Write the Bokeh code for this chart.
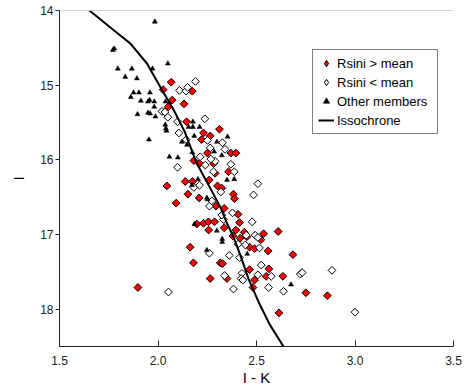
from bokeh.plotting import figure
from bokeh.models import Range1d, FixedTicker, PrintfTickFormatter, Span, Legend, LegendItem
from bokeh.embed import file_html
from bokeh.resources import INLINE
import numpy as np

# Rsini > mean (red diamonds)
red_x = [2.067, 2.026, 2.174, 2.072, 2.132, 2.052, 2.145, 2.312, 2.231, 2.265, 2.221, 2.251,
         2.370, 2.395, 2.182, 2.211, 2.282, 2.290, 2.358, 2.045, 2.138, 2.175, 2.260, 2.302,
         2.324, 2.152, 2.209, 2.383, 2.388, 2.092, 2.294, 2.336, 2.406, 2.197, 2.231, 2.256,
         2.287, 2.336, 2.414, 2.257, 2.395, 2.380, 2.417, 2.438, 2.451, 2.465, 2.490, 2.522,
         2.536, 2.559, 2.610, 2.163, 2.180, 2.316, 2.327, 2.465, 2.265, 2.350, 2.549, 2.563,
         2.490, 2.634, 2.482, 2.614, 2.685, 2.751, 2.860, 1.898]
red_y = [14.96, 15.06, 15.08, 15.20, 15.25, 15.29, 15.49, 15.59, 15.64, 15.68, 15.73, 15.91,
         15.91, 15.91, 16.01, 16.05, 16.05, 16.18, 16.16, 16.35, 16.29, 16.29, 16.27, 16.35,
         16.38, 16.46, 16.51, 16.46, 16.52, 16.58, 16.62, 16.65, 16.73, 16.86, 16.85, 16.83,
         16.83, 16.91, 16.84, 16.94, 16.94, 17.02, 17.05, 16.97, 17.03, 17.17, 17.19, 17.07,
         16.99, 17.22, 16.96, 17.17, 17.38, 17.38, 17.39, 17.47, 17.59, 17.59, 17.56, 17.46,
         17.61, 17.56, 17.71, 18.05, 17.27, 17.78, 17.82, 17.71]

# Rsini < mean (open diamonds)
white_x = [2.109, 2.142, 2.150, 2.190, 2.020, 2.035, 2.050, 2.106, 2.099, 2.143, 2.099, 2.238,
           2.251, 2.327, 2.340, 2.265, 2.214, 2.240, 2.370, 2.290, 2.268, 2.387, 2.507, 2.485,
           2.182, 2.211, 2.273, 2.261, 2.378, 2.332, 2.478, 2.282, 2.319, 2.324, 2.448, 2.493,
           2.507, 2.406, 2.443, 2.515, 2.362, 2.414, 2.261, 2.524, 2.507, 2.575, 2.426, 2.422,
           2.431, 2.338, 2.383, 2.561, 2.637, 2.722, 2.732, 2.883, 3.000, 2.053]
white_y = [15.07, 15.08, 15.03, 14.95, 15.35, 15.36, 15.43, 15.64, 15.49, 15.73, 16.10, 15.45,
           15.74, 15.77, 15.86, 15.84, 15.96, 16.07, 16.06, 16.02, 15.99, 16.16, 16.32, 16.47,
           16.37, 16.34, 16.55, 16.62, 16.71, 16.80, 16.83, 16.16, 16.43, 16.74, 17.01, 17.01,
           17.04, 17.13, 17.14, 17.18, 17.28, 17.31, 17.25, 17.41, 17.54, 17.56, 17.52, 17.59,
           17.61, 17.55, 17.73, 17.71, 17.76, 17.53, 17.51, 17.48, 18.04, 17.77]

# Other members (triangles)
tri_x = [1.984, 1.778, 1.771, 2.050, 1.796, 1.867, 1.972, 1.834, 1.893, 1.876, 1.903, 1.959,
         1.862, 1.913, 1.949, 1.957, 1.981, 1.981, 2.038, 1.896, 1.949, 1.960, 1.987, 2.037,
         2.040, 2.043, 2.155, 2.177, 1.954, 2.121, 2.147, 2.174, 2.058, 2.101, 2.353, 2.324,
         2.285, 2.177, 2.211, 2.184, 2.299, 2.350, 2.387, 2.203, 2.172, 2.248, 2.251, 2.185,
         2.299, 2.326, 2.326, 2.453, 2.248, 2.675]
tri_y = [14.15, 14.51, 14.53, 14.71, 14.78, 14.78, 14.78, 14.89, 14.91, 15.10, 15.10, 15.10,
         15.16, 15.21, 15.22, 15.20, 15.22, 15.29, 15.22, 15.39, 15.37, 15.38, 15.42, 15.53,
         15.58, 15.61, 15.56, 15.56, 15.73, 15.76, 15.80, 15.90, 15.96, 15.97, 15.69, 15.94,
         15.89, 15.49, 15.56, 15.68, 15.76, 16.27, 16.26, 16.26, 16.34, 16.51, 16.53, 16.86,
         16.95, 17.06, 17.10, 17.26, 17.21, 17.67]

# Isochrone
iso_x = [1.652, 1.774, 1.859, 1.944, 2.011, 2.079, 2.135, 2.197, 2.251, 2.316, 2.350,
         2.383, 2.417, 2.459, 2.510, 2.566, 2.637]
iso_y = [14.00, 14.26, 14.44, 14.71, 15.02, 15.33, 15.62, 16.05, 16.31, 16.63, 16.85,
         17.03, 17.27, 17.59, 17.90, 18.20, 18.50]

x_ticks = [1.5, 2.0, 2.5, 3.0, 3.5]
y_ticks = [14, 15, 16, 17, 18]

FONT = "Liberation Sans"

p = figure(width=464, height=388, x_range=Range1d(1.5, 3.5), y_range=Range1d(18.5, 14),
           output_backend="svg", toolbar_location=None,
           min_border_left=59, min_border_right=11, min_border_top=10, min_border_bottom=42)
p.grid.visible = False
p.outline_line_color = None
p.background_fill_color = "white"

r_red = p.scatter(red_x, red_y, marker="square", angle=np.pi / 4, size=5.5,
                  fill_color="#FF0000", line_color="black", line_width=1)
r_white = p.scatter(white_x, white_y, marker="square", angle=np.pi / 4, size=5.5,
                    fill_color="white", line_color="black", line_width=1)
r_tri = p.scatter(tri_x, tri_y, marker="triangle", size=5,
                  fill_color="black", line_color="black", line_width=0.5)
r_iso = p.line(iso_x, iso_y, line_color="black", line_width=2)

# legend-only glyphs: a single point placed far outside the visible ranges (clipped away)
off_x = [-10.0]
off_y = [40.0]
lg_red = p.scatter(off_x, off_y, marker="diamond", size=10,
                   fill_color="#FF0000", line_color="black", line_width=1)
lg_white = p.scatter(off_x, off_y, marker="diamond", size=10,
                     fill_color="white", line_color="black", line_width=1)
lg_tri = p.scatter(off_x, off_y, marker="triangle", size=8,
                   fill_color="black", line_color="black", line_width=0.5)

p.add_layout(Span(location=14, dimension="width", line_color="#A6A6A6", line_width=1))

xa = p.xaxis[0]
xa.ticker = FixedTicker(ticks=x_ticks)
xa.formatter = PrintfTickFormatter(format="%.1f")
xa.minor_tick_line_color = None
xa.major_tick_in = 6
xa.major_tick_out = 0
xa.major_label_standoff = 9
xa.axis_label = "I - K"
xa.axis_label_standoff = 1
xa.axis_label_text_font = FONT
xa.axis_label_text_font_size = "15px"
xa.axis_label_text_font_style = "normal"
xa.axis_label_text_color = "black"

ya = p.yaxis[0]
ya.ticker = FixedTicker(ticks=y_ticks)
ya.minor_tick_line_color = None
ya.major_tick_in = 0
ya.major_tick_out = 4
ya.major_label_standoff = 2
ya.axis_label = "I"
ya.axis_label_standoff = 10
ya.axis_label_text_font = FONT
ya.axis_label_text_font_size = "15px"
ya.axis_label_text_font_style = "normal"
ya.axis_label_text_color = "black"

for ax in (xa, ya):
    ax.axis_line_color = "#222222"
    ax.major_tick_line_color = "#222222"
    ax.major_label_text_font = FONT
    ax.major_label_text_font_size = "12px"
    ax.major_label_text_color = "#222222"

legend = Legend(items=[
    LegendItem(label="Rsini > mean", renderers=[lg_red]),
    LegendItem(label="Rsini < mean", renderers=[lg_white]),
    LegendItem(label="Other members", renderers=[lg_tri]),
    LegendItem(label="Issochrone", renderers=[r_iso]),
], location=(253, 212))
legend.border_line_color = "black"
legend.border_line_width = 1
legend.background_fill_color = "white"
legend.background_fill_alpha = 1
legend.padding = 5
legend.spacing = 3
legend.margin = 0
legend.glyph_height = 16
legend.glyph_width = 16
legend.label_height = 16
legend.label_standoff = 3
legend.label_width = 95
legend.label_text_font = FONT
legend.label_text_font_size = "13px"
legend.label_text_color = "black"
p.add_layout(legend, "center")

open("out.html", "w").write(file_html(p, INLINE))
